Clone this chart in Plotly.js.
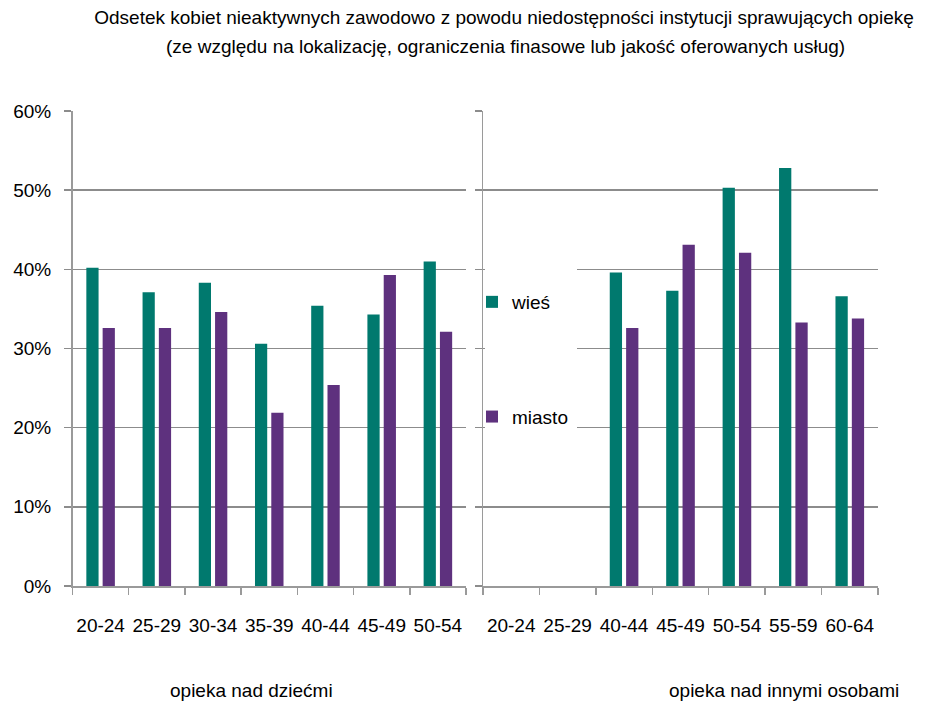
<!DOCTYPE html>
<html><head><meta charset="utf-8">
<script src="https://cdn.plot.ly/plotly-3.0.1.min.js"></script>
<style>body{margin:0;background:#fff}</style>
</head><body><div id="chart" style="width:951px;height:705px"></div>
<script>
const childCats = ['20-24','25-29','30-34','35-39','40-44','45-49','50-54'];
const childWies = [40.2, 37.1, 38.3, 30.6, 35.4, 34.3, 41.0];
const childMiasto = [32.6, 32.6, 34.6, 21.9, 25.4, 39.3, 32.1];
const otherCats = ['20-24','25-29','40-44','45-49','50-54','55-59','60-64'];
const otherWies = [null, null, 39.6, 37.3, 50.3, 52.8, 36.6];
const otherMiasto = [null, null, 32.6, 43.1, 42.1, 33.3, 33.8];
const yTicks = [0, 10, 20, 30, 40, 50, 60];
const seriesNames = ['wieś', 'miasto'];
const titleLines = ['Odsetek kobiet nieaktywnych zawodowo z powodu niedostępności instytucji sprawujących opiekę',
                    '(ze względu na lokalizację, ograniczenia finasowe lub jakość oferowanych usług)'];
const panelTitles = ['opieka nad dziećmi', 'opieka nad innymi osobami'];

const W = 951, H = 705, TOP = 111, BOT = 586;
const FONT = 'Liberation Sans, Arial, sans-serif';
const FS = 19;
const TEAL = '#00796E', PURPLE = '#5E317E';
const GRID = '#8c8c8c', LINE = '#9a9a9a';
const px = v => v / W;
const py = v => (BOT - v) / (BOT - TOP);

const traces = [
  {type:'bar', name:seriesNames[0], x:childCats, y:childWies, xaxis:'x', yaxis:'y', marker:{color:TEAL}, legendgroup:'w', showlegend:false},
  {type:'bar', name:seriesNames[1], x:childCats, y:childMiasto, xaxis:'x', yaxis:'y', marker:{color:PURPLE}, legendgroup:'m', showlegend:false},
  {type:'bar', name:seriesNames[0], x:otherCats, y:otherWies, xaxis:'x2', yaxis:'y2', marker:{color:TEAL}, legendgroup:'w'},
  {type:'bar', name:seriesNames[1], x:otherCats, y:otherMiasto, xaxis:'x2', yaxis:'y2', marker:{color:PURPLE}, legendgroup:'m'}
];

const tickText = yTicks.map(v => v + '%');
const yBase = {range:[0,60], tickvals:yTicks, ticktext:tickText, showgrid:true, gridcolor:GRID, gridwidth:1.5,
  ticks:'outside', ticklen:7, tickcolor:GRID, tickwidth:1.5, showline:true, linecolor:LINE, linewidth:1.5,
  zeroline:false, fixedrange:true, domain:[0,1]};
const xBase = {type:'category', tickson:'boundaries', ticks:'outside', ticklen:7, tickcolor:LINE, tickwidth:1.5,
  showline:true, linecolor:LINE, linewidth:1.5, showgrid:false, zeroline:false, fixedrange:true, range:[-0.5,6.5],
  tickangle:0, ticklabelstandoff:22};

const layout = {
  width:W, height:H, margin:{l:0, r:0, t:TOP, b:H-BOT, pad:0},
  paper_bgcolor:'#fff', plot_bgcolor:'rgba(0,0,0,0)',
  font:{family:FONT, size:FS, color:'#000'},
  barmode:'group', bargap:0.42, bargroupgap:0.25,
  title:{text:titleLines[0], x:px(504), xanchor:'center', xref:'paper', y:1 - 17/H, yanchor:'middle', yref:'container',
    font:{family:FONT, size:FS, color:'#000'}},
  xaxis:Object.assign({}, xBase, {domain:[px(72.5), px(466)], anchor:'y', categoryarray:childCats, categoryorder:'array'}),
  xaxis2:Object.assign({}, xBase, {domain:[px(483), px(878)], anchor:'y2', categoryarray:otherCats, categoryorder:'array'}),
  yaxis:Object.assign({}, yBase, {anchor:'x', ticklabelstandoff:9}),
  yaxis2:Object.assign({}, yBase, {anchor:'x2', showticklabels:false}),
  yaxis3:{range:[0,60], tickvals:yTicks, ticktext:tickText, overlaying:'y2', anchor:'x2', side:'right',
    showgrid:false, showline:false, zeroline:false, ticks:'', ticklabelstandoff:17, fixedrange:true},
  showlegend:true,
  legend:{x:px(472), xanchor:'left', y:py(283), yanchor:'top', traceorder:'grouped', tracegroupgap:87,
    bgcolor:'rgba(0,0,0,0)', font:{family:FONT, size:FS, color:'#000'}, itemclick:false, itemdoubleclick:false},
  shapes:[{type:'rect', xref:'paper', yref:'y2', x0:px(485), x1:px(577), y0:15, y1:45, fillcolor:'#fff', line:{width:0}, layer:'above'}],
  annotations:[
    {text:titleLines[1], xref:'paper', yref:'paper', x:px(505), y:py(47), xanchor:'center', yanchor:'middle', showarrow:false},
    {text:panelTitles[0], xref:'paper', yref:'paper', x:px(251), y:py(690), xanchor:'center', yanchor:'middle', showarrow:false},
    {text:panelTitles[1], xref:'paper', yref:'paper', x:px(784), y:py(690), xanchor:'center', yanchor:'middle', showarrow:false}
  ]
};

Plotly.newPlot('chart', traces, layout, {displayModeBar:false, staticPlot:true});
</script></body></html>
